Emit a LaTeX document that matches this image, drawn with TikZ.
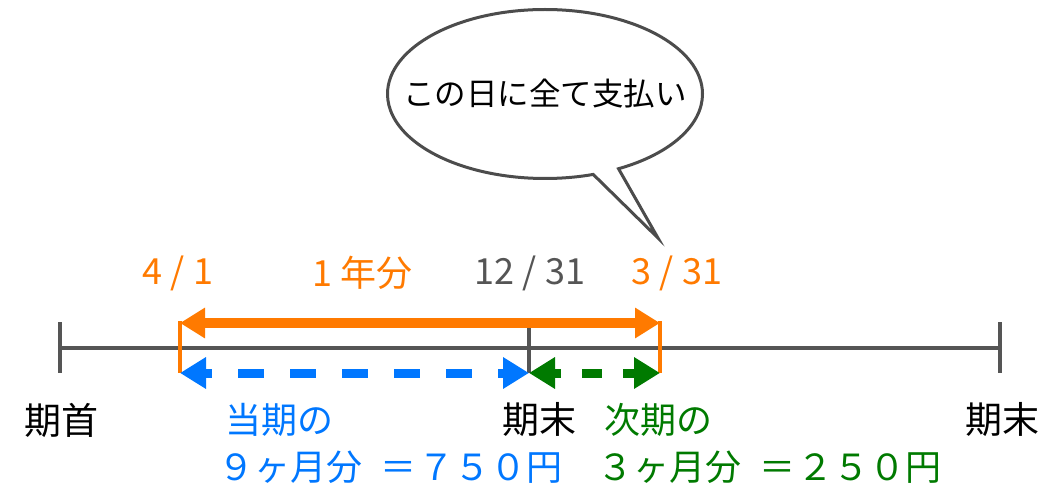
\documentclass[tikz,border=0pt]{standalone}
\usepackage{fontspec}
\newfontfamily\jpfont{Noto Sans CJK JP}
\usetikzlibrary{arrows.meta, shapes.callouts, positioning}
\definecolor{kaki}{HTML}{FF7A00}
\definecolor{toki}{HTML}{0077FF}
\definecolor{jiki}{HTML}{007A00}
\definecolor{sen}{HTML}{555555}

\begin{document}
\begin{tikzpicture}[x=1pt,y=-1pt,font=\jpfont\fontsize{37}{42}\selectfont,
    axis line/.style={draw=sen,line width=4pt},
    edge line/.style={draw=kaki,line width=4pt},
    year arrow/.style={draw=kaki,line width=10pt,{Triangle[length=25pt,width=29pt]}-{Triangle[length=25pt,width=29pt]}},
    part arrow/.style={line width=9pt,{Triangle[length=26pt,width=30pt]}-{Triangle[length=26pt,width=30pt]}},
    date label/.style={font=\jpfont\fontsize{36}{40}\selectfont},
    sum label/.style={anchor=west,inner sep=0pt,font=\jpfont\fontsize{36}{40}\selectfont}]

\useasboundingbox (0,0) rectangle (1062,492);

% timeline
\coordinate (t0u) at (60,322);  \coordinate (t0d) at (60,373);
\coordinate (t1u) at (529,323); \coordinate (t1d) at (529,373);
\coordinate (t2u) at (1000,322); \coordinate (t2d) at (1000,373);
\coordinate (t0) at (60,348);   \coordinate (t2) at (1000,348);
\coordinate (a0) at (180,323);  \coordinate (a1) at (660,323);
\coordinate (b0) at (180,373);  \coordinate (b1) at (529,373);  \coordinate (b2) at (660,373);
\coordinate (c0) at (180,321);  \coordinate (c1) at (660,321);

\path[axis line]
(t0) edge (t2)
(t0u) edge (t0d)
(t1u) edge (t1d)
(t2u) edge (t2d);

\path
(c0) edge[edge line] (b0)
(c1) edge[edge line] (b2)
(a0) edge[year arrow] (a1)
(b0) edge[part arrow,draw=toki,toki,dash pattern=on 26pt off 26pt,dash phase=18pt] (b1)
(b1) edge[part arrow,draw=jiki,jiki,dash pattern=on 20pt off 21pt,dash phase=12pt] (b2);

% labels
\node[date label,kaki] (d41)   at (178,273) {4 / 1};
\node[date label,kaki] (year)  at (363,273) {1 年分};
\node[date label,sen]  (d1231) at (530,273) {12 / 31};
\node[date label,kaki] (d331)  at (677,273) {3 / 31};

\node (kishu)    at (61,420)   {期首};
\node (kimatsu)  at (539,420)  {期末};
\node (kimatsu2) at (1002,420) {期末};

\node[sum label,toki] (tokihead) at (225,420) {当期の};
\node[sum label,toki] (tokisum)  at (218,467) {９ヶ月分\hspace{18pt}＝\hspace{2pt}７５０円};
\node[sum label,jiki] (jikihead) at (604,420) {次期の};
\node[sum label,jiki] (jikisum)  at (597,467) {３ヶ月分\hspace{18pt}＝\hspace{2pt}２５０円};

% callout
\node[ellipse callout,draw=sen!90!black,line width=3pt,fill=white,inner sep=0pt,
      minimum width=315pt,minimum height=169pt,callout pointer arc=10,
      callout absolute pointer={(658,238)},
      label={[font=\jpfont\fontsize{31.5}{36}\selectfont]center:この日に全て支払い}]
      (fukidashi) at (545,94) {};
\end{tikzpicture}
\end{document}
